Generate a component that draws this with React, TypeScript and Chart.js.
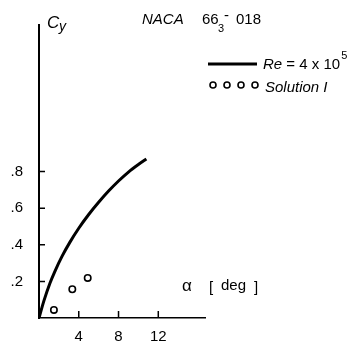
import React, { useEffect, useRef } from "react";
import { Chart, registerables } from "chart.js";

Chart.register(...registerables);

// Measured curve: Re = 4 x 10^5
const curveAlpha = [0, 0.5, 1.1, 1.6, 2.3, 3.1, 4.0, 5.0, 6.0, 7.0, 8.0, 9.0, 10.0, 10.8];
const curveCy = [0, 0.095, 0.19, 0.255, 0.335, 0.413, 0.49, 0.565, 0.632, 0.693, 0.748, 0.797, 0.838, 0.868];

// Solution I points
const solAlpha = [1.5, 3.35, 4.9];
const solCy = [0.044, 0.157, 0.219];

const xTicks = [4, 8, 12];
const xTickLabels = ["4", "8", "12"];
const yTicks = [0.2, 0.4, 0.6, 0.8];
const yTickLabels = [".2", ".4", ".6", ".8"];

const X_MAX = 16.7;
const Y_MAX = 1.6;

const FAMILY = '"Liberation Sans", Arial, sans-serif';

export default function App() {
  const ref = useRef<HTMLCanvasElement>(null);

  useEffect(() => {
    document.body.style.margin = "0";
    const overlay = {
      id: "overlay",
      afterDraw(chart: any) {
        const ctx = chart.ctx as CanvasRenderingContext2D;
        const xs = chart.scales.x;
        const ys = chart.scales.y;
        const x0 = xs.getPixelForValue(0);
        const y0 = ys.getPixelForValue(0);
        ctx.save();
        ctx.strokeStyle = "#000";
        ctx.fillStyle = "#000";
        ctx.lineWidth = 1.5;
        // inward ticks
        ctx.beginPath();
        yTicks.forEach((v) => {
          const py = ys.getPixelForValue(v);
          ctx.moveTo(x0, py);
          ctx.lineTo(x0 + 6, py);
        });
        xTicks.forEach((v) => {
          const px = xs.getPixelForValue(v);
          ctx.moveTo(px, y0);
          ctx.lineTo(px, y0 - 7);
        });
        ctx.stroke();

        ctx.textBaseline = "alphabetic";
        ctx.textAlign = "left";
        // Cy label
        ctx.font = `italic 17px ${FAMILY}`;
        ctx.fillText("C", 47, 28);
        ctx.font = `italic 14px ${FAMILY}`;
        ctx.fillText("y", 59, 31);

        // NACA 66_3 - 018
        ctx.font = `italic 15px ${FAMILY}`;
        ctx.fillText("NACA", 142, 24);
        ctx.font = `15px ${FAMILY}`;
        ctx.fillText("66", 202, 24);
        ctx.font = `11px ${FAMILY}`;
        ctx.fillText("3", 218, 32);
        ctx.font = `15px ${FAMILY}`;
        ctx.fillText("-", 224, 20);
        ctx.fillText("018", 236, 24);

        // legend: line
        ctx.lineWidth = 3;
        ctx.beginPath();
        ctx.moveTo(208, 64);
        ctx.lineTo(257, 64);
        ctx.stroke();
        ctx.font = `italic 15px ${FAMILY}`;
        ctx.fillText("Re", 263, 69);
        let w = ctx.measureText("Re").width;
        ctx.font = `15px ${FAMILY}`;
        const rest = " = 4 x 10";
        ctx.fillText(rest, 263 + w, 69);
        w += ctx.measureText(rest).width;
        ctx.font = `11px ${FAMILY}`;
        ctx.fillText("5", 263 + w + 1, 59);

        // legend: circles
        ctx.lineWidth = 1.6;
        [213, 227, 241, 255].forEach((cx) => {
          ctx.beginPath();
          ctx.arc(cx, 85, 3, 0, Math.PI * 2);
          ctx.stroke();
        });
        ctx.font = `italic 15px ${FAMILY}`;
        ctx.fillText("Solution I", 265, 92);

        // axis title
        ctx.font = `17px ${FAMILY}`;
        ctx.fillText("α", 182, 291);
        ctx.font = `15px ${FAMILY}`;
        ctx.fillText("[", 209, 292);
        ctx.fillText("deg", 221, 290);
        ctx.fillText("]", 254, 292);
        ctx.restore();
      },
    };

    const chart = new Chart(ref.current as HTMLCanvasElement, {
      type: "line",
      data: {
        datasets: [
          {
            type: "line",
            data: curveAlpha.map((x, i) => ({ x, y: curveCy[i] })),
            borderColor: "#000",
            borderWidth: 3,
            pointRadius: 0,
            cubicInterpolationMode: "monotone",
            fill: false,
          } as any,
          {
            type: "scatter",
            data: solAlpha.map((x, i) => ({ x, y: solCy[i] })),
            pointRadius: 3.2,
            pointBorderWidth: 1.6,
            borderColor: "#000",
            backgroundColor: "#fff",
            showLine: false,
          } as any,
        ],
      },
      options: {
        responsive: false,
        animation: false,
        devicePixelRatio: 1,
        layout: { padding: { left: 0, top: 13, right: 152, bottom: 0 } },
        plugins: { legend: { display: false }, tooltip: { enabled: false } },
        scales: {
          x: {
            type: "linear",
            min: 0,
            max: X_MAX,
            afterFit: (s: any) => {
              s.height = 23;
            },
            afterBuildTicks: (s: any) => {
              s.ticks = xTicks.map((v) => ({ value: v }));
            },
            ticks: {
              callback: (v: any) => xTickLabels[xTicks.indexOf(Number(v))] ?? "",
              color: "#000",
              font: { family: FAMILY, size: 15 },
              padding: 10,
              maxRotation: 0,
              autoSkip: false,
            },
            grid: { drawOnChartArea: false, drawTicks: false },
            border: { display: true, color: "#000", width: 1.5 },
          },
          y: {
            type: "linear",
            min: 0,
            max: Y_MAX,
            afterFit: (s: any) => {
              s.width = 39;
            },
            afterBuildTicks: (s: any) => {
              s.ticks = yTicks.map((v) => ({ value: v }));
            },
            ticks: {
              callback: (v: any) => {
                const i = yTicks.findIndex((t) => Math.abs(t - Number(v)) < 1e-6);
                return i >= 0 ? yTickLabels[i] : "";
              },
              color: "#000",
              font: { family: FAMILY, size: 15 },
              padding: 16,
              autoSkip: false,
            },
            grid: { drawOnChartArea: false, drawTicks: false },
            border: { display: true, color: "#000", width: 2 },
          },
        },
      } as any,
      plugins: [overlay],
    });
    return () => chart.destroy();
  }, []);

  return (
    <div style={{ position: "absolute", left: 0, top: 0, width: 357, height: 343 }}>
      <canvas ref={ref} width={357} height={343} style={{ width: 357, height: 343 }} />
    </div>
  );
}
